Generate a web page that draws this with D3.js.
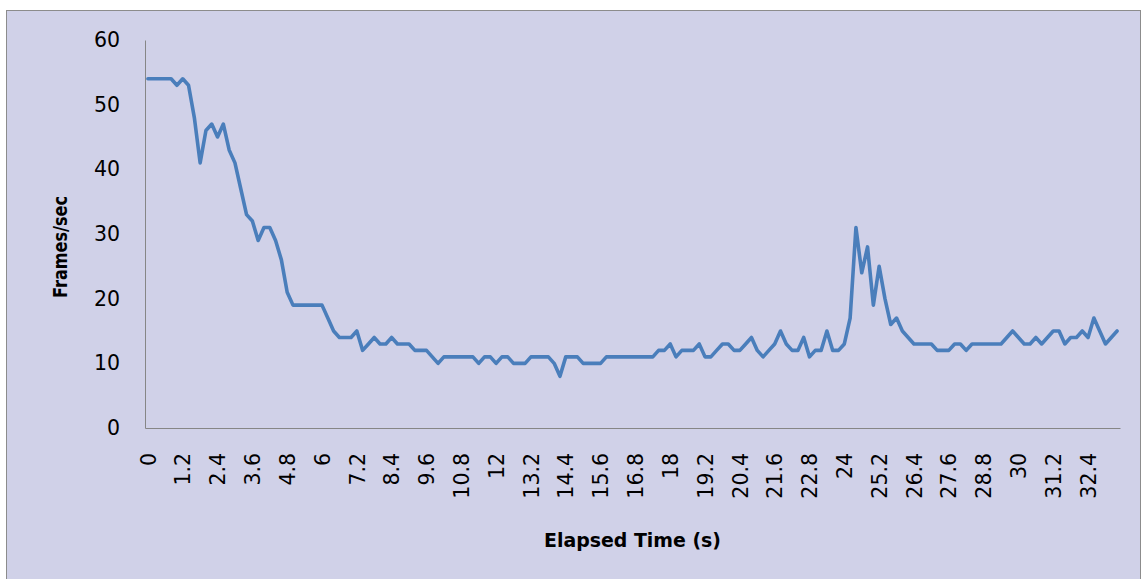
<!DOCTYPE html>
<html>
<head>
<meta charset="utf-8">
<script src="https://cdn.jsdelivr.net/npm/d3@7"></script>
<style>
  html, body { margin: 0; padding: 0; background: #ffffff; }
  svg { display: block; }
</style>
</head>
<body>
<svg id="chart" width="1144" height="579"></svg>
<script>
// Elapsed time of each sample (s)
const elapsedTimes = [
  0, 0.2, 0.4, 0.6, 0.8, 1, 1.2, 1.4, 1.6, 1.8,
  2, 2.2, 2.4, 2.6, 2.8, 3, 3.2, 3.4, 3.6, 3.8,
  4, 4.2, 4.4, 4.6, 4.8, 5, 5.2, 5.4, 5.6, 5.8,
  6, 6.2, 6.4, 6.6, 6.8, 7, 7.2, 7.4, 7.6, 7.8,
  8, 8.2, 8.4, 8.6, 8.8, 9, 9.2, 9.4, 9.6, 9.8,
  10, 10.2, 10.4, 10.6, 10.8, 11, 11.2, 11.4, 11.6, 11.8,
  12, 12.2, 12.4, 12.6, 12.8, 13, 13.2, 13.4, 13.6, 13.8,
  14, 14.2, 14.4, 14.6, 14.8, 15, 15.2, 15.4, 15.6, 15.8,
  16, 16.2, 16.4, 16.6, 16.8, 17, 17.2, 17.4, 17.6, 17.8,
  18, 18.2, 18.4, 18.6, 18.8, 19, 19.2, 19.4, 19.6, 19.8,
  20, 20.2, 20.4, 20.6, 20.8, 21, 21.2, 21.4, 21.6, 21.8,
  22, 22.2, 22.4, 22.6, 22.8, 23, 23.2, 23.4, 23.6, 23.8,
  24, 24.2, 24.4, 24.6, 24.8, 25, 25.2, 25.4, 25.6, 25.8,
  26, 26.2, 26.4, 26.6, 26.8, 27, 27.2, 27.4, 27.6, 27.8,
  28, 28.2, 28.4, 28.6, 28.8, 29, 29.2, 29.4, 29.6, 29.8,
  30, 30.2, 30.4, 30.6, 30.8, 31, 31.2, 31.4, 31.6, 31.8,
  32, 32.2, 32.4, 32.6, 32.8, 33, 33.2, 33.4
];

// Measured frame rate at each sample
const framesPerSec = [
  54, 54, 54, 54, 54, 53, 54, 53, 48, 41,
  46, 47, 45, 47, 43, 41, 37, 33, 32, 29,
  31, 31, 29, 26, 21, 19, 19, 19, 19, 19,
  19, 17, 15, 14, 14, 14, 15, 12, 13, 14,
  13, 13, 14, 13, 13, 13, 12, 12, 12, 11,
  10, 11, 11, 11, 11, 11, 11, 10, 11, 11,
  10, 11, 11, 10, 10, 10, 11, 11, 11, 11,
  10, 8, 11, 11, 11, 10, 10, 10, 10, 11,
  11, 11, 11, 11, 11, 11, 11, 11, 12, 12,
  13, 11, 12, 12, 12, 13, 11, 11, 12, 13,
  13, 12, 12, 13, 14, 12, 11, 12, 13, 15,
  13, 12, 12, 14, 11, 12, 12, 15, 12, 12,
  13, 17, 31, 24, 28, 19, 25, 20, 16, 17,
  15, 14, 13, 13, 13, 13, 12, 12, 12, 13,
  13, 12, 13, 13, 13, 13, 13, 13, 14, 15,
  14, 13, 13, 14, 13, 14, 15, 15, 13, 14,
  14, 15, 14, 17, 15, 13, 14, 15
];

// Labelled categories on the time axis
const xTickLabels = [
  "0", "1.2", "2.4", "3.6", "4.8", "6", "7.2", "8.4", "9.6", "10.8",
  "12", "13.2", "14.4", "15.6", "16.8", "18", "19.2", "20.4", "21.6", "22.8",
  "24", "25.2", "26.4", "27.6", "28.8", "30", "31.2", "32.4"
];
const yTickValues = [0, 10, 20, 30, 40, 50, 60];

const svg = d3.select("#chart");
const plot = { left: 145, right: 1120, top: 40, bottom: 428 };
const tickFont = "'DejaVu Sans', sans-serif";
const titleFont = "'DejaVu Sans', sans-serif";

// chart area
svg.append("rect")
  .attr("x", 6.5).attr("y", 10.5)
  .attr("width", 1134).attr("height", 580)
  .attr("fill", "#D0D1E8")
  .attr("stroke", "#8C8C8C")
  .attr("stroke-width", 1);

const x = d3.scalePoint()
  .domain(elapsedTimes.map(String))
  .range([plot.left, plot.right])
  .padding(0.5);

const y = d3.scaleLinear()
  .domain([0, 60])
  .range([plot.bottom, plot.top]);

// value axis
const yAxis = svg.append("g")
  .attr("transform", `translate(${plot.left},0)`)
  .call(d3.axisLeft(y).tickValues(yTickValues).tickSize(0).tickSizeOuter(0).tickPadding(25));
yAxis.select(".domain").attr("stroke", "#868686");
yAxis.selectAll("text")
  .attr("font-family", tickFont)
  .attr("font-size", 20.5)
  .attr("fill", "#000");

// time axis
const xAxis = svg.append("g")
  .attr("transform", `translate(0,${plot.bottom})`)
  .call(d3.axisBottom(x).tickValues(xTickLabels).tickSize(0).tickSizeOuter(0));
xAxis.select(".domain").attr("stroke", "#868686");
xAxis.selectAll("text")
  .attr("font-family", tickFont)
  .attr("font-size", 20.5)
  .attr("fill", "#000")
  .attr("transform", "rotate(-90)")
  .attr("text-anchor", "end")
  .attr("x", -25)
  .attr("y", 0)
  .attr("dy", "0.35em");

// frame rate line
const line = d3.line()
  .x((d, i) => x(String(elapsedTimes[i])))
  .y(d => y(d));

svg.append("path")
  .datum(framesPerSec)
  .attr("d", line)
  .attr("fill", "none")
  .attr("stroke", "#4A7EBB")
  .attr("stroke-width", 3.6)
  .attr("stroke-linejoin", "round")
  .attr("stroke-linecap", "round");

// axis titles
svg.append("text")
  .attr("x", (plot.left + plot.right) / 2)
  .attr("y", 547)
  .attr("text-anchor", "middle")
  .attr("font-family", titleFont)
  .attr("font-weight", "bold")
  .attr("font-size", 19)
  .attr("textLength", 177)
  .attr("lengthAdjust", "spacingAndGlyphs")
  .attr("fill", "#000")
  .text("Elapsed Time (s)");

svg.append("text")
  .attr("transform", "translate(67,247) rotate(-90)")
  .attr("text-anchor", "middle")
  .attr("font-family", titleFont)
  .attr("font-weight", "bold")
  .attr("font-size", 19)
  .attr("textLength", 102)
  .attr("lengthAdjust", "spacingAndGlyphs")
  .attr("fill", "#000")
  .text("Frames/sec");
</script>
</body>
</html>
